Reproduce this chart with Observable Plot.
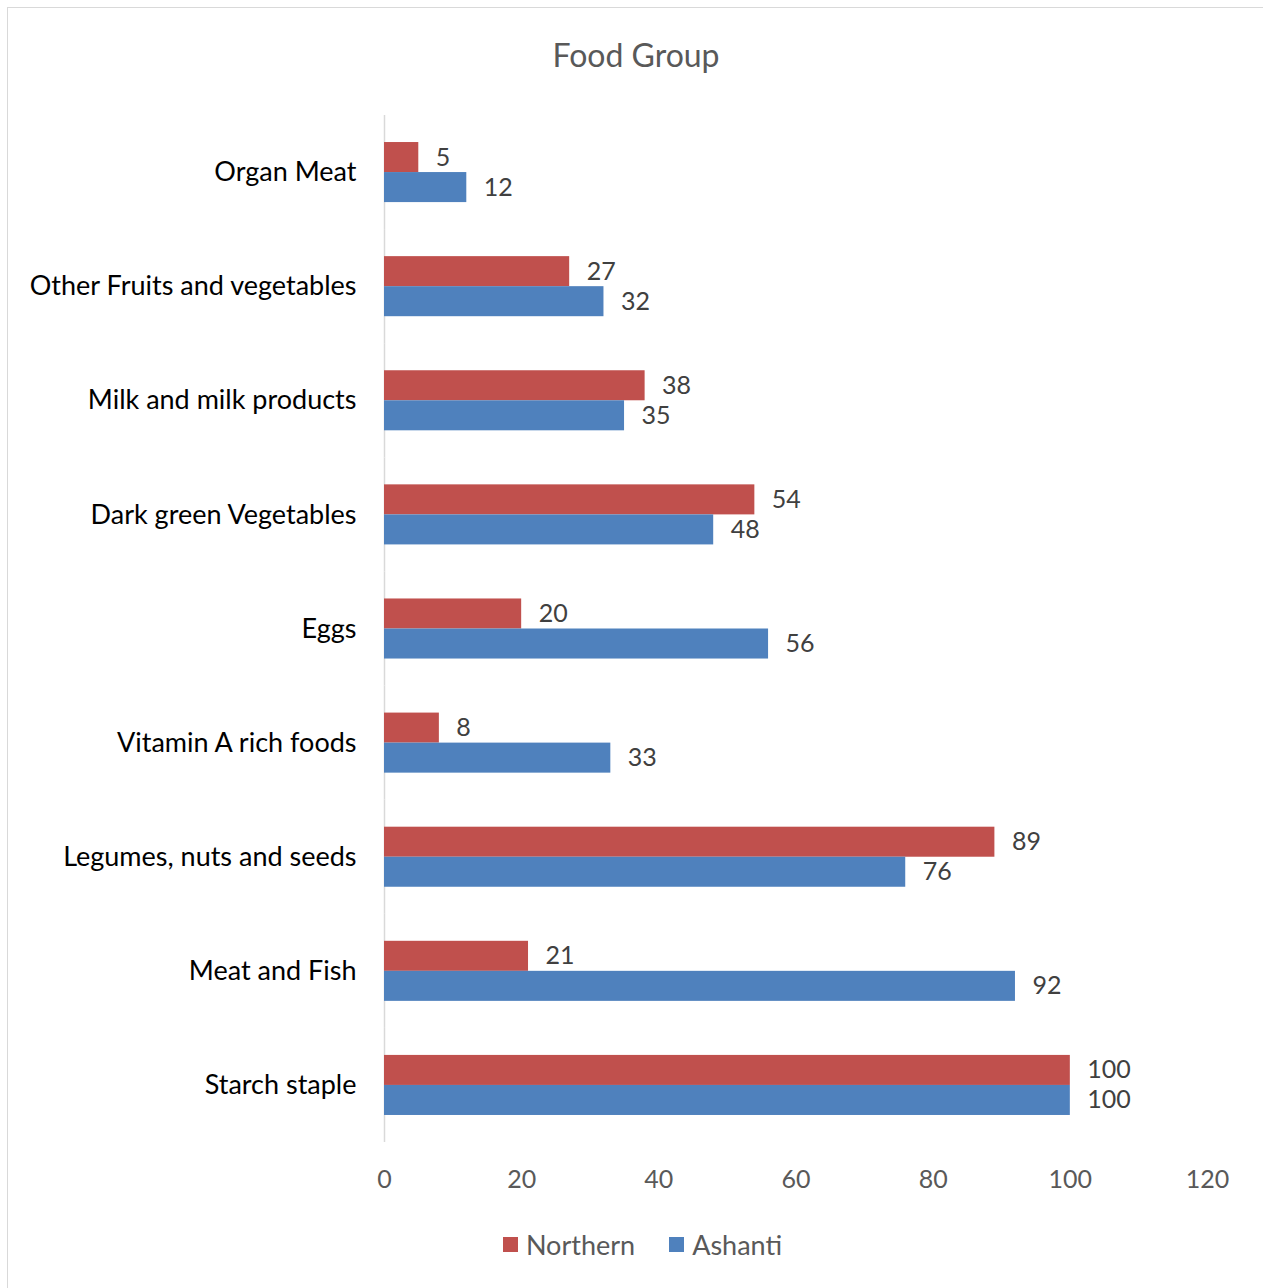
<!DOCTYPE html>
<html>
<head>
<meta charset="utf-8">
<script src="https://cdn.jsdelivr.net/npm/d3@7"></script>
<script src="https://cdn.jsdelivr.net/npm/@observablehq/plot@0.6"></script>
<style>
  html, body { margin: 0; padding: 0; background: #fff; }
  body { width: 1263px; height: 1288px; position: relative; overflow: hidden; font-family: Lato, "Open Sans", sans-serif; }
  #frame { position: absolute; left: 7px; top: 7px; width: 1262px; height: 1285px; border: 1.5px solid #d9d9d9; box-sizing: border-box; }
  #title { position: absolute; left: 0; top: 35px; width: 1272px; text-align: center; font-size: 32px; color: #595959; }
  #chart { position: absolute; left: 0; top: 0; }
  #legend { position: absolute; top: 1228px; left: 0; width: 1285px; display: flex; justify-content: center; gap: 34px; font-size: 27px; color: #595959; }
  .item { display: flex; align-items: center; gap: 8px; }
  .sw { width: 15px; height: 15px; display: inline-block; }
</style>
</head>
<body>
<div id="frame"></div>
<div id="title">Food Group</div>
<div id="chart"></div>
<div id="legend"></div>
<script>
const categories = [
  "Organ Meat",
  "Other Fruits and vegetables",
  "Milk and milk products",
  "Dark green Vegetables",
  "Eggs",
  "Vitamin A rich foods",
  "Legumes, nuts and seeds",
  "Meat and Fish",
  "Starch staple"
];
const series = ["Northern", "Ashanti"];
const northern = [5, 27, 38, 54, 20, 8, 89, 21, 100];
const ashanti = [12, 32, 35, 48, 56, 33, 76, 92, 100];
const colors = ["#C0504D", "#4F81BD"];
const xTicks = [0, 20, 40, 60, 80, 100, 120];

const data = [];
categories.forEach((c, i) => {
  data.push({category: c, series: "Northern", value: northern[i]});
  data.push({category: c, series: "Ashanti", value: ashanti[i]});
});

const chart = Plot.plot({
  width: 1263,
  height: 1288,
  marginLeft: 384,
  marginRight: 56,
  marginTop: 115,
  marginBottom: 146,
  style: {fontFamily: "Lato, 'Open Sans', sans-serif", fontSize: "25px", background: "transparent"},
  x: {domain: [0, 120], axis: null},
  y: {domain: series, paddingInner: 0, paddingOuter: 0.9, round: false, axis: null},
  fy: {domain: categories, padding: 0, round: false, axis: null},
  color: {domain: series, range: colors},
  marks: [
    Plot.ruleX([0], {stroke: "#d9d9d9", strokeWidth: 1.5}),
    Plot.barX(data, {fy: "category", y: "series", x: "value", fill: "series"}),
    Plot.text(data, {fy: "category", y: "series", x: "value", text: d => String(d.value), textAnchor: "start", dx: 17, fill: "#404040", fontSize: 25}),
    Plot.axisFy({anchor: "left", tickSize: 0, tickPadding: 28, label: null, fontSize: 27, color: "#000"}),
    Plot.axisX(xTicks, {anchor: "bottom", tickSize: 0, tickPadding: 28, label: null, fontSize: 25, color: "#595959"})
  ]
});
document.getElementById("chart").appendChild(chart);

const legend = document.getElementById("legend");
series.forEach((s, i) => {
  const item = document.createElement("div");
  item.className = "item";
  const sw = document.createElement("span");
  sw.className = "sw";
  sw.style.background = colors[i];
  const t = document.createElement("span");
  t.textContent = s;
  item.appendChild(sw);
  item.appendChild(t);
  legend.appendChild(item);
});
</script>
</body>
</html>
